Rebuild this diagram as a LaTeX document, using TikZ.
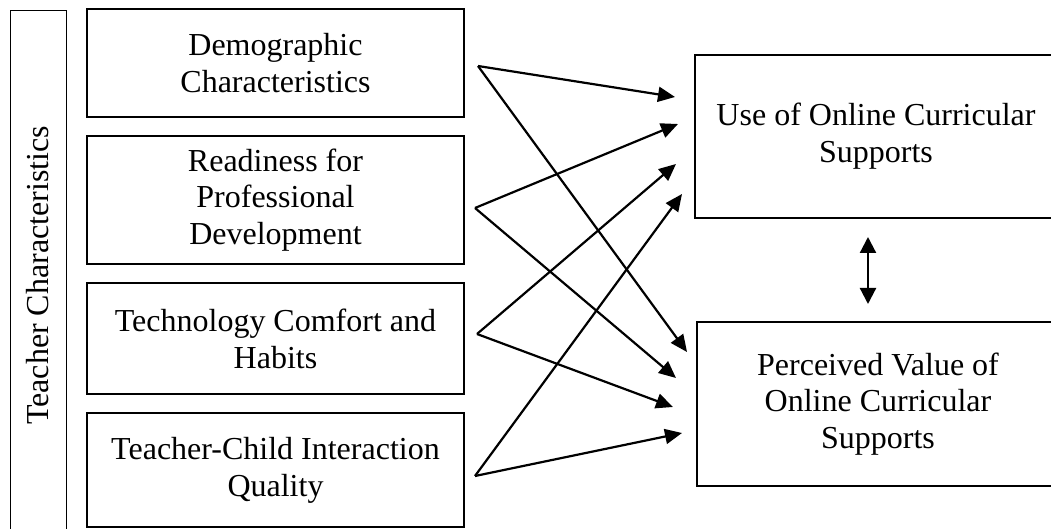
\documentclass[tikz,border=0pt]{standalone}
\usepackage{fontspec}
\setmainfont{Liberation Serif}
\usetikzlibrary{arrows.meta}

\begin{document}
\begin{tikzpicture}[x=0.5pt, y=-0.5pt,
    font=\fontsize{16}{18.4}\selectfont,
    factor/.style={draw, line width=1pt, minimum width=188.5pt, minimum height=#1, align=center},
    outcome/.style={draw, line width=1pt, minimum width=181pt, minimum height=#1, align=center},
    link/.style={line width=1.1pt, -{Triangle[length=8.5pt,width=7.5pt]}}]

    \clip (0,0) rectangle (1051,529);

    \node[draw, line width=0.5pt, rotate=90, minimum width=264.5pt, minimum height=28pt] (tchar) at (38,275.5) {Teacher Characteristics};

    \node[factor=54pt] (demo) at (275.5,63) {Demographic\\Characteristics};
    \node[factor=64pt] (ready) at (275.5,200) {Readiness for\\Professional\\Development};
    \node[factor=55.5pt] (tech) at (275.5,338.5) {Technology Comfort and\\Habits};
    \node[factor=57pt] (tcq) at (275.5,470) {Teacher-Child Interaction\\Quality};

    \node[outcome=81.5pt] (use) at (876,136.5) {Use of Online Curricular\\Supports};
    \node[outcome=82pt] (perc) at (878,404) {Perceived Value of\\Online Curricular\\Supports};

    % arrow ends
    \coordinate (demoout) at (478,66);
    \coordinate (readyout) at (475,208);
    \coordinate (techout) at (477,334);
    \coordinate (tcqout) at (475,476);
    \coordinate (usein1) at (675,97);
    \coordinate (usein2) at (678,124);
    \coordinate (usein3) at (676,164);
    \coordinate (usein4) at (682,194);
    \coordinate (percin1) at (687,352);
    \coordinate (percin2) at (676,378);
    \coordinate (percin3) at (673,407);
    \coordinate (percin4) at (682,433);

    \draw[link] (demoout) -- (usein1);
    \draw[link] (demoout) -- (percin1);
    \draw[link] (readyout) -- (usein2);
    \draw[link] (readyout) -- (percin2);
    \draw[link] (techout) -- (usein3);
    \draw[link] (techout) -- (percin3);
    \draw[link] (tcqout) -- (usein4);
    \draw[link] (tcqout) -- (percin4);

    \draw[line width=1.1pt, {Triangle[length=8pt,width=8pt]}-{Triangle[length=8pt,width=8pt]}]
        ([xshift=-4pt, yshift=-9pt]use.south) -- ([xshift=-5pt, yshift=8.5pt]perc.north);
\end{tikzpicture}
\end{document}
